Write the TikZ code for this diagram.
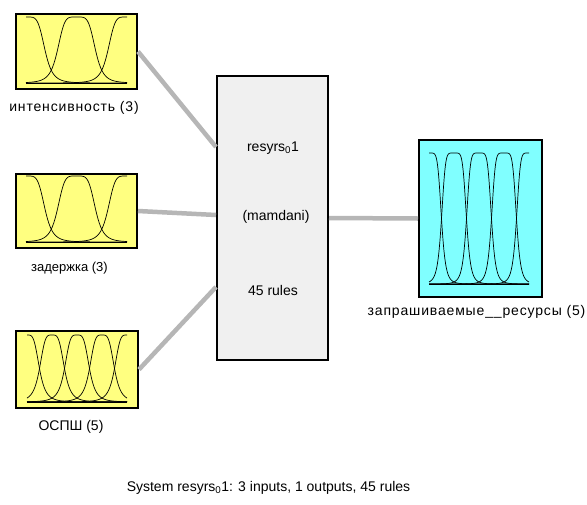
\documentclass[tikz,border=0pt]{standalone}
\usepackage{fontspec}
\setmainfont{Liberation Sans}
\definecolor{inyellow}{RGB}{255,255,128}
\definecolor{outcyan}{RGB}{128,255,255}
\definecolor{sysgray}{RGB}{240,240,240}
\definecolor{linkgray}{RGB}{182,182,182}
\tikzset{
  declare function={gb(\mx,\mc,\ma,\mn)=1/(1+min(abs((\mx-\mc)/\ma),4)^\mn);},
  varbox/.style={draw=black, line width=2pt, inner sep=0pt},
  mfline/.style={draw=black, line width=0.7pt},
  link/.style={draw=linkgray, line width=4.5pt},
  lbl/.style={inner sep=0pt, font=\fontsize{14}{16}\selectfont},
  widelbl/.style={inner sep=0pt, font=\fontsize{14}{16}\selectfont\addfontfeature{LetterSpace=6}},
}
\begin{document}
\begin{tikzpicture}[x=1pt,y=-1pt]
\useasboundingbox (0,0) rectangle (587,504);
% boxes
\node[varbox, fill=inyellow, minimum width=121pt, minimum height=75pt] (in1) at (76.5,51.5) {};
\node[varbox, fill=inyellow, minimum width=121pt, minimum height=74pt] (in2) at (76.5,211) {};
\node[varbox, fill=inyellow, minimum width=122pt, minimum height=77pt] (in3) at (77,369.5) {};
\node[varbox, fill=sysgray, minimum width=111pt, minimum height=284pt] (sys) at (272.5,218) {};
\node[varbox, fill=outcyan, minimum width=123pt, minimum height=157pt] (out) at (480.5,218.5) {};
% connectors
\draw[link] (in1.east) -- ([yshift=71pt]sys.west);
\draw[link] (in2.east) -- ([yshift=3pt]sys.west);
\draw[link] (in3.east) -- ([yshift=-69pt]sys.west);
\draw[link] (sys.east) -- (out.west);
% membership functions: input 1
\foreach \mc in {26,76.5,127}
  \draw[mfline] plot[domain=26:127,samples=121] (\x,{83-66*gb(\x,\mc,19,5)});
\draw[mfline] (26,83) -- (127,83);
% input 2
\foreach \mc in {26,76.5,127}
  \draw[mfline] plot[domain=26:127,samples=121] (\x,{242-66*gb(\x,\mc,19,5)});
\draw[mfline] (26,242) -- (127,242);
% input 3
\foreach \mc in {27,52,77,102,127}
  \draw[mfline] plot[domain=27:127,samples=161] (\x,{402-67*gb(\x,\mc,12.5,4)});
\draw[mfline] (27,402) -- (127,402);
% output
\foreach \mc in {429,454,479,504,529}
  \draw[mfline] plot[domain=429:529,samples=201] (\x,{284-131*gb(\x,\mc,12.5,6)});
\draw[mfline] (429,284) -- (529,284);
% labels
\node[widelbl] (l1) at (74,108) {интенсивность (3)};
\node[lbl, font=\fontsize{13}{15}\selectfont] (l2) at (69.5,268) {задержка (3)};
\node[lbl] (l3) at (71,427) {ОСПШ (5)};
\node[widelbl] (l4) at (476.5,312) {запрашиваемые\_\_ресурсы (5)};
\node[lbl] (t1) at (273,148) {resyrs\textsubscript{0}1};
\node[lbl] (t2) at (276,217) {(mamdani)};
\node[lbl] (t3) at (273,290) {45 rules};
\node[lbl] (sum) at (268.5,488) {System resyrs\textsubscript{0}1: 3 inputs, 1 outputs, 45 rules};
\end{tikzpicture}
\end{document}
